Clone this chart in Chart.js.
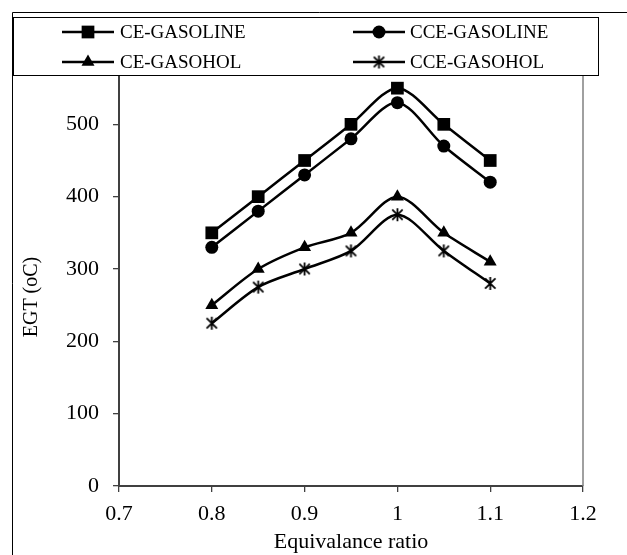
<!DOCTYPE html>
<html>
<head>
<meta charset="utf-8">
<script src="https://cdn.jsdelivr.net/npm/chart.js@4/dist/chart.umd.min.js"></script>
<style>
html,body{margin:0;padding:0;background:#fff;}
#wrap{position:relative;width:627px;height:555px;}
</style>
</head>
<body>
<div id="wrap"><canvas id="c" width="627" height="555"></canvas></div>
<script>
const xValues = [0.8, 0.85, 0.9, 0.95, 1.0, 1.05, 1.1];
const ceGasoline  = [350, 400, 450, 500, 550, 500, 450];
const cceGasoline = [330, 380, 430, 480, 530, 470, 420];
const ceGasohol   = [250, 300, 330, 350, 400, 350, 310];
const cceGasohol  = [225, 275, 300, 325, 375, 325, 280];
const seriesNames = ['CE-GASOLINE', 'CCE-GASOLINE', 'CE-GASOHOL', 'CCE-GASOHOL'];
const xTicks = [0.7, 0.8, 0.9, 1.0, 1.1, 1.2];
const yTicks = [0, 100, 200, 300, 400, 500, 600];
const yTitle = 'EGT (oC)';
const xTitle = 'Equivalance ratio';

const FONT = '"Liberation Serif", serif';

function asterisk(size) {
  const c = document.createElement('canvas');
  c.width = size; c.height = size;
  const g = c.getContext('2d');
  const m = size / 2, r = size / 2 - 1;
  g.strokeStyle = '#000'; g.lineWidth = 1.8;
  g.beginPath();
  g.moveTo(m - r * 0.8, m - r * 0.8); g.lineTo(m + r * 0.8, m + r * 0.8);
  g.moveTo(m + r * 0.8, m - r * 0.8); g.lineTo(m - r * 0.8, m + r * 0.8);
  g.moveTo(m, m - r); g.lineTo(m, m + r);
  g.stroke();
  return c;
}
const starImg = asterisk(15);

const pts = arr => xValues.map((x, i) => ({x: x, y: arr[i]}));
const base = {borderColor: '#000', backgroundColor: '#000', borderWidth: 2.5, tension: 0.3, pointBorderWidth: 0, pointHoverRadius: 0};
const datasets = [
  Object.assign({}, base, {label: seriesNames[0], data: pts(ceGasoline), pointStyle: 'rect', pointRadius: 9}),
  Object.assign({}, base, {label: seriesNames[1], data: pts(cceGasoline), pointStyle: 'circle', pointRadius: 6.5}),
  Object.assign({}, base, {label: seriesNames[2], data: pts(ceGasohol), pointStyle: 'triangle', pointRadius: 7.5}),
  Object.assign({}, base, {label: seriesNames[3], data: pts(cceGasohol), pointStyle: starImg, pointRadius: 7.5})
];

const framePlugin = {
  id: 'frame',
  afterDraw(chart) {
    const ctx = chart.ctx, a = chart.chartArea;
    ctx.save();
    // plot right border
    ctx.strokeStyle = '#808080'; ctx.lineWidth = 1.5;
    ctx.beginPath(); ctx.moveTo(a.right, a.top); ctx.lineTo(a.right, a.bottom); ctx.stroke();
    // outer frame (left & top)
    ctx.strokeStyle = '#000'; ctx.lineWidth = 1;
    ctx.beginPath(); ctx.moveTo(12.5, 555); ctx.lineTo(12.5, 12.5); ctx.lineTo(627, 12.5); ctx.stroke();
    // y-axis title
    ctx.save();
    ctx.translate(32, 297);
    ctx.rotate(-Math.PI / 2);
    ctx.fillStyle = '#000';
    ctx.font = '20px ' + FONT;
    ctx.textAlign = 'center'; ctx.textBaseline = 'middle';
    ctx.fillText(yTitle, 0, 0);
    ctx.restore();
    // legend box
    const bx = 13.5, by = 17.5, bw = 585, bh = 58;
    ctx.fillStyle = '#fff'; ctx.fillRect(bx, by, bw, bh);
    ctx.strokeStyle = '#000'; ctx.lineWidth = 1;
    ctx.strokeRect(bx, by, bw, bh);
    const cols = [[62, 120], [353, 410]], rows = [32, 62];
    chart.data.datasets.forEach((ds, i) => {
      const c = cols[i % 2], y = rows[Math.floor(i / 2)];
      const x0 = c[0];
      ctx.strokeStyle = '#000'; ctx.lineWidth = 2.5;
      ctx.beginPath(); ctx.moveTo(x0, y); ctx.lineTo(x0 + 52, y); ctx.stroke();
      ctx.fillStyle = '#000';
      Chart.helpers.drawPoint(ctx, {pointStyle: ds.pointStyle, radius: ds.pointRadius, rotation: 0, borderWidth: 0}, x0 + 26, y);
      ctx.fillStyle = '#000';
      ctx.font = '19px ' + FONT;
      ctx.textBaseline = 'middle'; ctx.textAlign = 'left';
      ctx.fillText(ds.label, c[1], y + 1);
    });
    ctx.restore();
  }
};

new Chart(document.getElementById('c'), {
  type: 'line',
  data: {datasets: datasets},
  plugins: [framePlugin],
  options: {
    responsive: false,
    animation: false,
    events: [],
    layout: {padding: {top: 52, right: 44, left: 0, bottom: 0}},
    plugins: {legend: {display: false}, tooltip: {enabled: false}},
    scales: {
      x: {
        type: 'linear', min: 0.7, max: 1.2,
        afterBuildTicks(s) { s.ticks = xTicks.map(v => ({value: v})); },
        afterFit(s) { s.height = 69; },
        border: {display: true, color: '#404040', width: 2},
        grid: {display: true, drawOnChartArea: false, drawTicks: true, tickLength: 6, color: '#404040', lineWidth: 1.3},
        ticks: {color: '#000', font: {family: FONT, size: 22}, padding: 9, maxRotation: 0,
                callback: v => String(Math.round(v * 10) / 10)},
        title: {display: true, text: xTitle, color: '#000', font: {family: FONT, size: 22}, padding: {top: 0, bottom: 0}}
      },
      y: {
        type: 'linear', min: 0, max: 600,
        afterBuildTicks(s) { s.ticks = yTicks.map(v => ({value: v})); },
        afterFit(s) { s.width = 119; },
        border: {display: true, color: '#404040', width: 2},
        grid: {display: true, drawOnChartArea: false, drawTicks: true, tickLength: 6, color: '#404040', lineWidth: 1.3},
        ticks: {color: '#000', font: {family: FONT, size: 22}, padding: 14},
        title: {display: false}
      }
    }
  }
});
</script>
</body>
</html>
